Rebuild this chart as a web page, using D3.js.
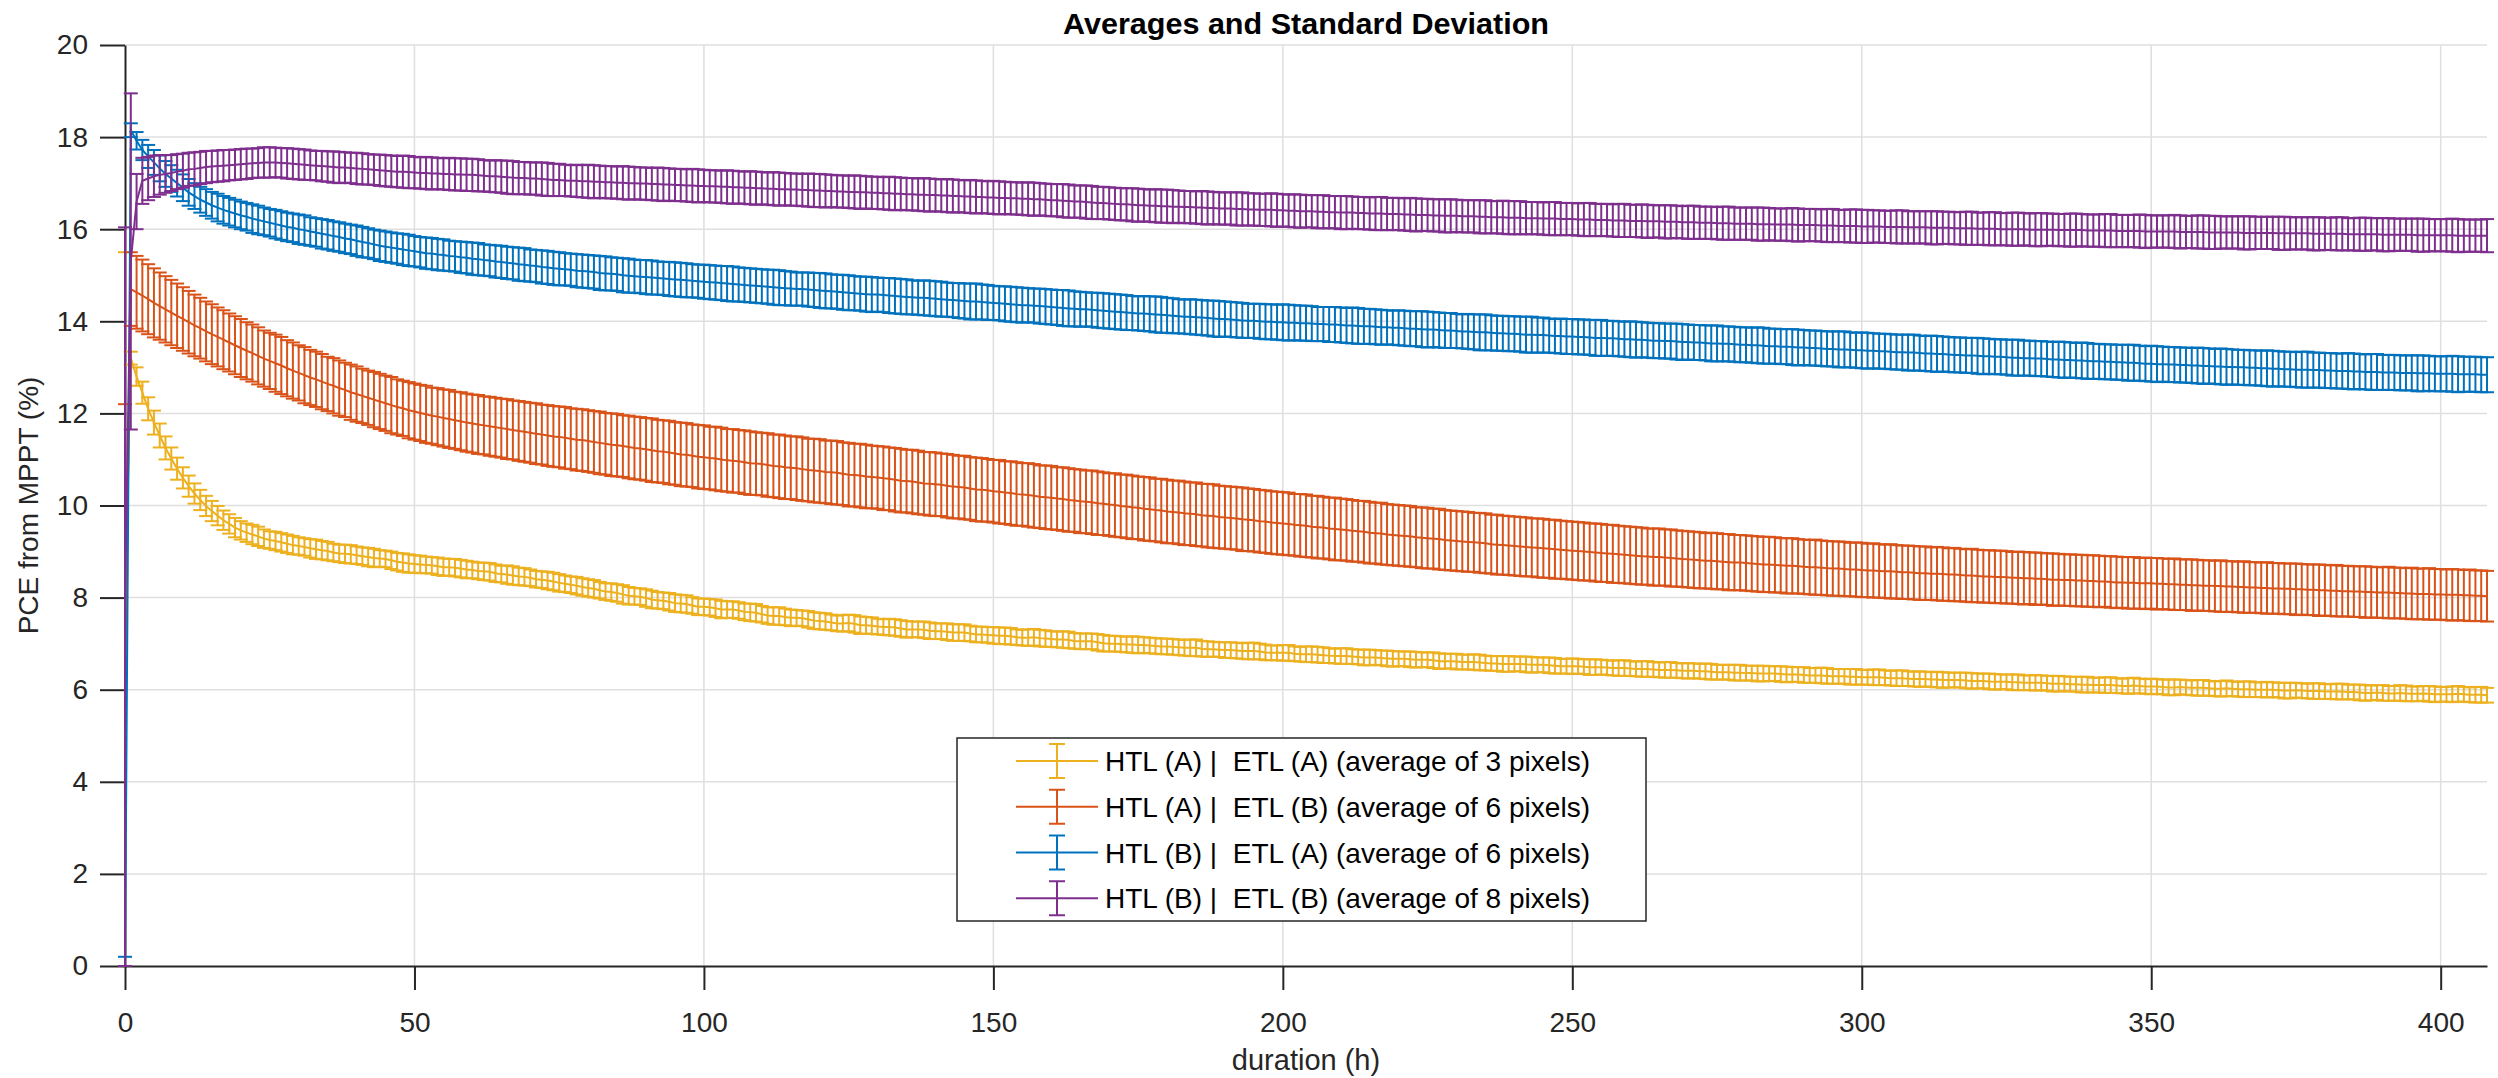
<!DOCTYPE html>
<html>
<head>
<meta charset="utf-8">
<script src="https://cdn.jsdelivr.net/npm/d3@7"></script>
<style>
  body { margin: 0; background: #fff; }
  text { font-family: "Liberation Sans", Arial, Helvetica, sans-serif; fill: #262626; }
</style>
</head>
<body>
<script>
//sampling grid: one reading per hour, 0 to 408 h
var hours = d3.range(0, 409);

//HTL (A) | ETL (A) - mean and standard deviation, rows of 10 h
var yellowMean = [
  7.75, 13.20, 12.80, 12.45, 12.10, 11.80, 11.52, 11.25, 11.02, 10.80,
  10.60, 10.42, 10.26, 10.12, 9.99, 9.88, 9.78, 9.68, 9.60, 9.52,
  9.46, 9.41, 9.37, 9.33, 9.28, 9.25, 9.23, 9.20, 9.17, 9.14,
  9.12, 9.10, 9.07, 9.05, 9.03, 9.01, 8.98, 8.96, 8.95, 8.94,
  8.92, 8.90, 8.88, 8.86, 8.85, 8.84, 8.81, 8.78, 8.76, 8.74,
  8.73, 8.72, 8.71, 8.70, 8.68, 8.66, 8.66, 8.65, 8.63, 8.61,
  8.60, 8.58, 8.57, 8.56, 8.53, 8.51, 8.50, 8.48, 8.46, 8.45,
  8.43, 8.40, 8.39, 8.37, 8.35, 8.32, 8.30, 8.28, 8.26, 8.23,
  8.21, 8.19, 8.16, 8.13, 8.12, 8.10, 8.07, 8.04, 8.03, 8.02,
  7.99, 7.96, 7.94, 7.93, 7.91, 7.88, 7.87, 7.86, 7.83, 7.80,
  7.80, 7.79, 7.77, 7.74, 7.74, 7.74, 7.72, 7.69, 7.68, 7.67,
  7.64, 7.61, 7.60, 7.60, 7.58, 7.56, 7.56, 7.55, 7.53, 7.50,
  7.49, 7.48, 7.46, 7.44, 7.44, 7.45, 7.43, 7.40, 7.40, 7.39,
  7.37, 7.36, 7.36, 7.35, 7.33, 7.31, 7.31, 7.31, 7.30, 7.28,
  7.27, 7.27, 7.26, 7.24, 7.24, 7.24, 7.22, 7.20, 7.20, 7.19,
  7.18, 7.17, 7.17, 7.16, 7.14, 7.13, 7.13, 7.14, 7.12, 7.11,
  7.10, 7.09, 7.09, 7.08, 7.06, 7.05, 7.05, 7.05, 7.03, 7.01,
  7.00, 7.00, 6.99, 6.98, 6.98, 6.97, 6.97, 6.96, 6.95, 6.94,
  6.94, 6.93, 6.92, 6.91, 6.91, 6.91, 6.89, 6.88, 6.88, 6.87,
  6.86, 6.86, 6.85, 6.84, 6.84, 6.84, 6.83, 6.81, 6.80, 6.80,
  6.80, 6.80, 6.78, 6.77, 6.77, 6.77, 6.76, 6.75, 6.74, 6.73,
  6.73, 6.73, 6.72, 6.71, 6.70, 6.70, 6.70, 6.69, 6.68, 6.67,
  6.67, 6.67, 6.66, 6.65, 6.65, 6.65, 6.64, 6.62, 6.62, 6.62,
  6.61, 6.60, 6.60, 6.60, 6.59, 6.58, 6.57, 6.57, 6.56, 6.56,
  6.56, 6.56, 6.55, 6.54, 6.54, 6.54, 6.53, 6.52, 6.51, 6.51,
  6.51, 6.51, 6.50, 6.49, 6.49, 6.49, 6.48, 6.47, 6.47, 6.47,
  6.46, 6.45, 6.45, 6.45, 6.44, 6.43, 6.43, 6.43, 6.42, 6.41,
  6.41, 6.41, 6.40, 6.40, 6.39, 6.38, 6.38, 6.38, 6.37, 6.37,
  6.36, 6.36, 6.35, 6.35, 6.35, 6.35, 6.34, 6.33, 6.33, 6.33,
  6.32, 6.31, 6.31, 6.31, 6.30, 6.29, 6.29, 6.29, 6.28, 6.28,
  6.27, 6.27, 6.27, 6.27, 6.26, 6.25, 6.25, 6.25, 6.24, 6.23,
  6.23, 6.23, 6.22, 6.22, 6.21, 6.21, 6.21, 6.21, 6.20, 6.19,
  6.19, 6.19, 6.18, 6.17, 6.17, 6.17, 6.16, 6.16, 6.15, 6.15,
  6.15, 6.15, 6.14, 6.13, 6.13, 6.13, 6.12, 6.12, 6.11, 6.11,
  6.10, 6.10, 6.10, 6.10, 6.09, 6.08, 6.08, 6.09, 6.08, 6.07,
  6.07, 6.07, 6.06, 6.05, 6.05, 6.06, 6.05, 6.04, 6.04, 6.04,
  6.03, 6.02, 6.02, 6.03, 6.02, 6.01, 6.01, 6.01, 6.00, 6.00,
  6.00, 6.00, 5.99, 5.98, 5.98, 5.99, 5.98, 5.97, 5.97, 5.97,
  5.96, 5.96, 5.96, 5.96, 5.95, 5.95, 5.94, 5.93, 5.93, 5.94,
  5.93, 5.92, 5.92, 5.93, 5.92, 5.91, 5.91, 5.92, 5.91, 5.90,
  5.90, 5.90, 5.90, 5.91, 5.90, 5.89, 5.89, 5.89, 5.88];
var yellowStd = [
  7.75, 0.14, 0.20, 0.24, 0.25, 0.26, 0.26, 0.25, 0.24, 0.24,
  0.23, 0.23, 0.22, 0.22, 0.22, 0.22, 0.21, 0.21, 0.21, 0.21,
  0.20, 0.20, 0.21, 0.21, 0.20, 0.19, 0.20, 0.20, 0.20, 0.20,
  0.19, 0.19, 0.20, 0.21, 0.20, 0.20, 0.19, 0.19, 0.20, 0.20,
  0.19, 0.19, 0.20, 0.20, 0.18, 0.18, 0.19, 0.19, 0.20, 0.20,
  0.19, 0.19, 0.18, 0.18, 0.19, 0.19, 0.18, 0.19, 0.19, 0.19,
  0.18, 0.18, 0.19, 0.19, 0.19, 0.18, 0.20, 0.20, 0.19, 0.19,
  0.18, 0.18, 0.18, 0.19, 0.19, 0.19, 0.18, 0.18, 0.19, 0.19,
  0.19, 0.19, 0.18, 0.18, 0.19, 0.19, 0.20, 0.19, 0.18, 0.18,
  0.19, 0.19, 0.18, 0.18, 0.19, 0.19, 0.19, 0.19, 0.18, 0.18,
  0.18, 0.18, 0.19, 0.19, 0.18, 0.18, 0.18, 0.18, 0.19, 0.19,
  0.18, 0.18, 0.19, 0.19, 0.18, 0.18, 0.17, 0.17, 0.18, 0.18,
  0.18, 0.18, 0.17, 0.17, 0.18, 0.18, 0.19, 0.19, 0.18, 0.18,
  0.17, 0.17, 0.18, 0.18, 0.18, 0.18, 0.17, 0.17, 0.18, 0.18,
  0.17, 0.17, 0.18, 0.18, 0.18, 0.18, 0.17, 0.17, 0.17, 0.17,
  0.18, 0.18, 0.18, 0.18, 0.17, 0.17, 0.18, 0.18, 0.18, 0.18,
  0.17, 0.17, 0.18, 0.18, 0.17, 0.17, 0.17, 0.17, 0.18, 0.18,
  0.17, 0.17, 0.17, 0.17, 0.18, 0.18, 0.17, 0.17, 0.17, 0.17,
  0.17, 0.17, 0.17, 0.17, 0.18, 0.18, 0.17, 0.17, 0.16, 0.16,
  0.17, 0.17, 0.17, 0.17, 0.18, 0.18, 0.17, 0.17, 0.16, 0.16,
  0.17, 0.17, 0.16, 0.16, 0.17, 0.17, 0.17, 0.17, 0.16, 0.16,
  0.17, 0.17, 0.16, 0.16, 0.17, 0.17, 0.16, 0.16, 0.17, 0.17,
  0.16, 0.16, 0.17, 0.17, 0.16, 0.16, 0.17, 0.17, 0.16, 0.16,
  0.17, 0.16, 0.16, 0.17, 0.17, 0.16, 0.16, 0.16, 0.17, 0.17,
  0.16, 0.16, 0.17, 0.17, 0.16, 0.16, 0.17, 0.17, 0.16, 0.16,
  0.17, 0.16, 0.16, 0.17, 0.17, 0.16, 0.16, 0.16, 0.17, 0.17,
  0.16, 0.16, 0.17, 0.17, 0.16, 0.16, 0.17, 0.17, 0.16, 0.16,
  0.17, 0.16, 0.16, 0.17, 0.17, 0.16, 0.16, 0.16, 0.17, 0.17,
  0.16, 0.16, 0.17, 0.17, 0.16, 0.16, 0.17, 0.17, 0.16, 0.16,
  0.17, 0.16, 0.16, 0.17, 0.17, 0.16, 0.16, 0.16, 0.17, 0.17,
  0.16, 0.16, 0.17, 0.17, 0.16, 0.16, 0.17, 0.17, 0.16, 0.16,
  0.17, 0.16, 0.16, 0.17, 0.17, 0.16, 0.16, 0.16, 0.17, 0.17,
  0.16, 0.16, 0.17, 0.17, 0.16, 0.16, 0.17, 0.17, 0.16, 0.16,
  0.17, 0.16, 0.16, 0.17, 0.17, 0.16, 0.16, 0.16, 0.17, 0.17,
  0.16, 0.16, 0.17, 0.17, 0.16, 0.16, 0.17, 0.17, 0.16, 0.16,
  0.17, 0.16, 0.16, 0.17, 0.17, 0.16, 0.16, 0.16, 0.17, 0.17,
  0.16, 0.16, 0.17, 0.17, 0.16, 0.16, 0.17, 0.17, 0.16, 0.16,
  0.17, 0.16, 0.16, 0.17, 0.17, 0.16, 0.16, 0.16, 0.17, 0.17,
  0.16, 0.16, 0.17, 0.17, 0.16, 0.16, 0.17, 0.17, 0.16, 0.16,
  0.17, 0.16, 0.16, 0.17, 0.17, 0.16, 0.16, 0.16, 0.17, 0.17,
  0.16, 0.16, 0.17, 0.17, 0.16, 0.16, 0.17, 0.17, 0.16];

//HTL (A) | ETL (B)
var orangeMean = [
  6.10, 14.70, 14.63, 14.56, 14.48, 14.40, 14.33, 14.26, 14.19, 14.12,
  14.05, 13.98, 13.91, 13.85, 13.78, 13.72, 13.66, 13.60, 13.54, 13.48,
  13.42, 13.36, 13.31, 13.25, 13.19, 13.14, 13.09, 13.04, 12.98, 12.93,
  12.88, 12.83, 12.78, 12.74, 12.69, 12.64, 12.60, 12.55, 12.51, 12.46,
  12.42, 12.38, 12.34, 12.30, 12.26, 12.22, 12.18, 12.14, 12.11, 12.07,
  12.04, 12.01, 11.98, 11.95, 11.93, 11.90, 11.88, 11.85, 11.83, 11.80,
  11.78, 11.76, 11.74, 11.72, 11.70, 11.68, 11.66, 11.64, 11.62, 11.60,
  11.58, 11.56, 11.54, 11.52, 11.50, 11.49, 11.47, 11.45, 11.43, 11.42,
  11.40, 11.38, 11.36, 11.34, 11.32, 11.31, 11.29, 11.27, 11.25, 11.24,
  11.22, 11.20, 11.18, 11.17, 11.15, 11.13, 11.11, 11.10, 11.08, 11.06,
  11.05, 11.03, 11.02, 11.00, 10.98, 10.97, 10.96, 10.94, 10.92, 10.91,
  10.90, 10.88, 10.86, 10.85, 10.83, 10.82, 10.81, 10.79, 10.77, 10.76,
  10.75, 10.73, 10.72, 10.71, 10.69, 10.67, 10.66, 10.65, 10.63, 10.62,
  10.61, 10.59, 10.58, 10.56, 10.54, 10.53, 10.52, 10.50, 10.48, 10.47,
  10.46, 10.45, 10.43, 10.41, 10.40, 10.39, 10.37, 10.35, 10.34, 10.33,
  10.31, 10.30, 10.28, 10.27, 10.25, 10.24, 10.23, 10.21, 10.19, 10.18,
  10.17, 10.15, 10.14, 10.12, 10.11, 10.09, 10.08, 10.07, 10.05, 10.04,
  10.02, 10.01, 9.99, 9.98, 9.96, 9.95, 9.93, 9.92, 9.90, 9.89,
  9.87, 9.86, 9.85, 9.83, 9.82, 9.81, 9.79, 9.78, 9.77, 9.75,
  9.74, 9.73, 9.72, 9.70, 9.69, 9.68, 9.66, 9.65, 9.63, 9.62,
  9.61, 9.60, 9.58, 9.57, 9.56, 9.54, 9.53, 9.52, 9.50, 9.49,
  9.48, 9.47, 9.45, 9.44, 9.43, 9.41, 9.40, 9.39, 9.37, 9.36,
  9.35, 9.34, 9.33, 9.31, 9.30, 9.29, 9.28, 9.27, 9.25, 9.24,
  9.23, 9.22, 9.21, 9.20, 9.19, 9.18, 9.16, 9.15, 9.14, 9.13,
  9.12, 9.11, 9.10, 9.09, 9.08, 9.07, 9.06, 9.05, 9.04, 9.03,
  9.02, 9.01, 9.00, 8.99, 8.98, 8.97, 8.96, 8.95, 8.94, 8.93,
  8.92, 8.91, 8.90, 8.89, 8.88, 8.88, 8.87, 8.86, 8.85, 8.84,
  8.83, 8.82, 8.81, 8.80, 8.80, 8.79, 8.78, 8.77, 8.76, 8.76,
  8.75, 8.74, 8.73, 8.72, 8.72, 8.71, 8.70, 8.69, 8.69, 8.68,
  8.67, 8.66, 8.66, 8.65, 8.64, 8.63, 8.63, 8.62, 8.61, 8.61,
  8.60, 8.59, 8.59, 8.58, 8.57, 8.57, 8.56, 8.55, 8.55, 8.54,
  8.53, 8.53, 8.52, 8.52, 8.51, 8.50, 8.50, 8.49, 8.48, 8.48,
  8.47, 8.46, 8.46, 8.45, 8.45, 8.44, 8.43, 8.43, 8.42, 8.42,
  8.41, 8.41, 8.40, 8.39, 8.39, 8.38, 8.38, 8.37, 8.37, 8.36,
  8.36, 8.35, 8.35, 8.34, 8.33, 8.33, 8.32, 8.32, 8.31, 8.31,
  8.31, 8.30, 8.30, 8.29, 8.29, 8.28, 8.28, 8.27, 8.27, 8.26,
  8.26, 8.25, 8.25, 8.24, 8.24, 8.23, 8.23, 8.22, 8.22, 8.21,
  8.21, 8.20, 8.20, 8.19, 8.19, 8.18, 8.18, 8.17, 8.17, 8.16,
  8.16, 8.15, 8.15, 8.14, 8.14, 8.13, 8.13, 8.12, 8.12, 8.11,
  8.11, 8.11, 8.10, 8.10, 8.09, 8.09, 8.08, 8.08, 8.08, 8.07,
  8.07, 8.06, 8.06, 8.06, 8.05, 8.05, 8.04, 8.04, 8.03];
var orangeStd = [
  6.10, 0.80, 0.79, 0.78, 0.76, 0.75, 0.73, 0.72, 0.71, 0.70,
  0.69, 0.68, 0.67, 0.66, 0.65, 0.65, 0.64, 0.64, 0.63, 0.63,
  0.63, 0.62, 0.62, 0.62, 0.61, 0.61, 0.62, 0.62, 0.61, 0.61,
  0.60, 0.61, 0.60, 0.60, 0.60, 0.59, 0.60, 0.60, 0.59, 0.60,
  0.60, 0.59, 0.59, 0.60, 0.60, 0.60, 0.61, 0.60, 0.60, 0.61,
  0.61, 0.61, 0.62, 0.61, 0.62, 0.62, 0.63, 0.62, 0.63, 0.63,
  0.63, 0.64, 0.63, 0.64, 0.64, 0.64, 0.65, 0.64, 0.65, 0.65,
  0.65, 0.66, 0.65, 0.66, 0.66, 0.66, 0.67, 0.66, 0.67, 0.67,
  0.67, 0.67, 0.68, 0.67, 0.68, 0.68, 0.67, 0.68, 0.68, 0.68,
  0.68, 0.69, 0.68, 0.68, 0.69, 0.68, 0.69, 0.69, 0.68, 0.69,
  0.69, 0.68, 0.69, 0.69, 0.68, 0.69, 0.68, 0.69, 0.69, 0.68,
  0.68, 0.69, 0.68, 0.69, 0.69, 0.68, 0.69, 0.69, 0.68, 0.69,
  0.69, 0.68, 0.69, 0.69, 0.68, 0.69, 0.68, 0.69, 0.69, 0.68,
  0.68, 0.69, 0.68, 0.69, 0.69, 0.68, 0.69, 0.69, 0.68, 0.69,
  0.69, 0.68, 0.69, 0.69, 0.68, 0.69, 0.68, 0.69, 0.69, 0.68,
  0.68, 0.69, 0.68, 0.69, 0.69, 0.68, 0.69, 0.69, 0.68, 0.69,
  0.69, 0.68, 0.69, 0.69, 0.68, 0.69, 0.68, 0.69, 0.69, 0.68,
  0.68, 0.69, 0.68, 0.69, 0.69, 0.68, 0.69, 0.69, 0.68, 0.69,
  0.69, 0.68, 0.69, 0.69, 0.68, 0.69, 0.68, 0.69, 0.69, 0.68,
  0.68, 0.68, 0.68, 0.69, 0.68, 0.68, 0.68, 0.68, 0.68, 0.68,
  0.68, 0.68, 0.67, 0.68, 0.68, 0.67, 0.68, 0.67, 0.67, 0.68,
  0.67, 0.67, 0.67, 0.66, 0.67, 0.67, 0.66, 0.67, 0.66, 0.66,
  0.66, 0.66, 0.66, 0.65, 0.66, 0.66, 0.65, 0.66, 0.65, 0.65,
  0.65, 0.65, 0.65, 0.64, 0.65, 0.65, 0.64, 0.65, 0.64, 0.64,
  0.64, 0.64, 0.64, 0.63, 0.64, 0.64, 0.63, 0.64, 0.63, 0.63,
  0.63, 0.63, 0.63, 0.62, 0.63, 0.63, 0.62, 0.63, 0.62, 0.62,
  0.62, 0.62, 0.62, 0.61, 0.62, 0.62, 0.61, 0.62, 0.61, 0.61,
  0.61, 0.61, 0.61, 0.60, 0.61, 0.61, 0.60, 0.61, 0.60, 0.60,
  0.60, 0.60, 0.60, 0.60, 0.60, 0.60, 0.59, 0.60, 0.60, 0.59,
  0.59, 0.59, 0.60, 0.59, 0.59, 0.59, 0.59, 0.59, 0.58, 0.59,
  0.59, 0.58, 0.59, 0.58, 0.58, 0.59, 0.58, 0.58, 0.58, 0.58,
  0.58, 0.58, 0.57, 0.58, 0.58, 0.57, 0.58, 0.57, 0.57, 0.58,
  0.57, 0.57, 0.57, 0.57, 0.57, 0.57, 0.56, 0.57, 0.57, 0.56,
  0.57, 0.56, 0.56, 0.57, 0.56, 0.56, 0.56, 0.56, 0.56, 0.56,
  0.56, 0.56, 0.55, 0.56, 0.56, 0.55, 0.56, 0.56, 0.55, 0.56,
  0.55, 0.56, 0.55, 0.55, 0.56, 0.55, 0.55, 0.56, 0.55, 0.55,
  0.55, 0.55, 0.56, 0.55, 0.55, 0.55, 0.56, 0.55, 0.55, 0.55,
  0.56, 0.55, 0.55, 0.55, 0.55, 0.56, 0.55, 0.55, 0.55, 0.56,
  0.55, 0.55, 0.56, 0.55, 0.55, 0.55, 0.55, 0.56, 0.55, 0.55,
  0.55, 0.56, 0.55, 0.55, 0.55, 0.56, 0.55, 0.55, 0.56, 0.55,
  0.55, 0.55, 0.56, 0.55, 0.55, 0.56, 0.55, 0.55, 0.55];

//HTL (B) | ETL (A)
var blueMean = [
  0.10, 18.15, 17.92, 17.72, 17.58, 17.45, 17.32, 17.20, 17.10, 17.00,
  16.90, 16.80, 16.72, 16.64, 16.58, 16.52, 16.47, 16.42, 16.38, 16.34,
  16.30, 16.27, 16.23, 16.20, 16.17, 16.14, 16.11, 16.08, 16.05, 16.03,
  16.00, 15.98, 15.95, 15.93, 15.90, 15.88, 15.85, 15.83, 15.80, 15.78,
  15.75, 15.72, 15.70, 15.67, 15.64, 15.62, 15.60, 15.58, 15.56, 15.54,
  15.52, 15.50, 15.48, 15.47, 15.45, 15.44, 15.42, 15.41, 15.39, 15.38,
  15.36, 15.35, 15.33, 15.32, 15.30, 15.29, 15.27, 15.26, 15.24, 15.23,
  15.21, 15.20, 15.18, 15.17, 15.15, 15.14, 15.13, 15.12, 15.10, 15.09,
  15.08, 15.07, 15.05, 15.04, 15.03, 15.02, 15.00, 14.99, 14.98, 14.97,
  14.96, 14.95, 14.94, 14.93, 14.92, 14.91, 14.90, 14.89, 14.88, 14.87,
  14.86, 14.85, 14.84, 14.83, 14.82, 14.81, 14.80, 14.79, 14.78, 14.77,
  14.76, 14.75, 14.74, 14.73, 14.72, 14.71, 14.70, 14.70, 14.69, 14.68,
  14.67, 14.66, 14.65, 14.64, 14.63, 14.62, 14.61, 14.60, 14.59, 14.58,
  14.58, 14.57, 14.56, 14.55, 14.54, 14.53, 14.52, 14.51, 14.51, 14.50,
  14.49, 14.48, 14.47, 14.46, 14.45, 14.44, 14.43, 14.43, 14.42, 14.41,
  14.40, 14.39, 14.38, 14.37, 14.36, 14.35, 14.35, 14.34, 14.33, 14.32,
  14.31, 14.30, 14.29, 14.28, 14.27, 14.26, 14.26, 14.25, 14.24, 14.23,
  14.22, 14.21, 14.20, 14.19, 14.18, 14.17, 14.17, 14.16, 14.15, 14.14,
  14.13, 14.12, 14.11, 14.10, 14.10, 14.09, 14.08, 14.07, 14.06, 14.05,
  14.05, 14.04, 14.03, 14.02, 14.01, 14.01, 14.00, 13.99, 13.99, 13.98,
  13.98, 13.97, 13.97, 13.96, 13.96, 13.95, 13.94, 13.94, 13.93, 13.93,
  13.92, 13.91, 13.91, 13.90, 13.89, 13.89, 13.88, 13.87, 13.87, 13.86,
  13.86, 13.85, 13.84, 13.84, 13.83, 13.82, 13.82, 13.81, 13.80, 13.80,
  13.79, 13.78, 13.78, 13.77, 13.76, 13.76, 13.75, 13.74, 13.74, 13.73,
  13.73, 13.72, 13.71, 13.71, 13.70, 13.70, 13.69, 13.68, 13.68, 13.67,
  13.67, 13.66, 13.66, 13.65, 13.64, 13.64, 13.63, 13.63, 13.62, 13.61,
  13.61, 13.60, 13.60, 13.59, 13.58, 13.58, 13.57, 13.57, 13.56, 13.55,
  13.55, 13.54, 13.54, 13.53, 13.52, 13.52, 13.51, 13.51, 13.50, 13.49,
  13.49, 13.48, 13.48, 13.47, 13.46, 13.46, 13.45, 13.45, 13.44, 13.43,
  13.43, 13.42, 13.42, 13.41, 13.40, 13.40, 13.39, 13.39, 13.38, 13.37,
  13.37, 13.36, 13.36, 13.35, 13.35, 13.34, 13.33, 13.33, 13.32, 13.32,
  13.31, 13.30, 13.30, 13.29, 13.29, 13.28, 13.27, 13.27, 13.26, 13.26,
  13.25, 13.24, 13.24, 13.23, 13.23, 13.22, 13.21, 13.21, 13.20, 13.20,
  13.19, 13.19, 13.18, 13.17, 13.17, 13.16, 13.16, 13.15, 13.15, 13.14,
  13.13, 13.13, 13.12, 13.12, 13.11, 13.11, 13.10, 13.10, 13.09, 13.08,
  13.08, 13.07, 13.07, 13.06, 13.06, 13.05, 13.05, 13.04, 13.04, 13.03,
  13.03, 13.02, 13.02, 13.01, 13.01, 13.00, 13.00, 12.99, 12.99, 12.98,
  12.98, 12.97, 12.97, 12.96, 12.96, 12.95, 12.95, 12.95, 12.94, 12.94,
  12.93, 12.93, 12.92, 12.92, 12.92, 12.91, 12.91, 12.90, 12.90, 12.90,
  12.89, 12.89, 12.89, 12.88, 12.88, 12.88, 12.87, 12.87, 12.87, 12.86,
  12.86, 12.86, 12.86, 12.85, 12.85, 12.85, 12.85, 12.84, 12.84];
var blueStd = [
  0.10, 0.15, 0.19, 0.22, 0.25, 0.27, 0.28, 0.28, 0.29, 0.29,
  0.29, 0.29, 0.28, 0.28, 0.29, 0.29, 0.30, 0.30, 0.30, 0.30,
  0.30, 0.30, 0.31, 0.31, 0.30, 0.30, 0.31, 0.31, 0.31, 0.31,
  0.32, 0.32, 0.31, 0.31, 0.32, 0.32, 0.32, 0.32, 0.32, 0.32,
  0.33, 0.33, 0.32, 0.32, 0.33, 0.33, 0.33, 0.33, 0.34, 0.34,
  0.33, 0.33, 0.34, 0.34, 0.34, 0.34, 0.33, 0.33, 0.34, 0.34,
  0.35, 0.35, 0.34, 0.34, 0.35, 0.35, 0.35, 0.35, 0.36, 0.36,
  0.35, 0.35, 0.36, 0.36, 0.36, 0.36, 0.35, 0.35, 0.36, 0.36,
  0.36, 0.36, 0.37, 0.37, 0.36, 0.36, 0.37, 0.37, 0.36, 0.36,
  0.37, 0.37, 0.36, 0.36, 0.37, 0.37, 0.37, 0.37, 0.36, 0.36,
  0.37, 0.37, 0.37, 0.37, 0.38, 0.38, 0.37, 0.37, 0.37, 0.37,
  0.37, 0.37, 0.38, 0.38, 0.37, 0.37, 0.36, 0.36, 0.37, 0.37,
  0.38, 0.38, 0.37, 0.37, 0.38, 0.38, 0.37, 0.37, 0.38, 0.38,
  0.37, 0.37, 0.38, 0.38, 0.38, 0.38, 0.37, 0.37, 0.38, 0.38,
  0.38, 0.38, 0.37, 0.37, 0.38, 0.38, 0.39, 0.39, 0.38, 0.38,
  0.37, 0.37, 0.38, 0.38, 0.38, 0.38, 0.37, 0.37, 0.38, 0.38,
  0.38, 0.38, 0.39, 0.39, 0.38, 0.38, 0.37, 0.37, 0.38, 0.38,
  0.38, 0.38, 0.38, 0.38, 0.37, 0.37, 0.38, 0.38, 0.39, 0.39,
  0.38, 0.38, 0.37, 0.37, 0.38, 0.38, 0.38, 0.38, 0.39, 0.39,
  0.38, 0.38, 0.38, 0.38, 0.37, 0.37, 0.38, 0.38, 0.38, 0.38,
  0.39, 0.39, 0.38, 0.38, 0.38, 0.38, 0.37, 0.37, 0.38, 0.38,
  0.38, 0.38, 0.39, 0.39, 0.38, 0.38, 0.38, 0.38, 0.37, 0.37,
  0.38, 0.38, 0.38, 0.38, 0.39, 0.39, 0.38, 0.38, 0.38, 0.38,
  0.37, 0.37, 0.38, 0.38, 0.39, 0.39, 0.38, 0.38, 0.38, 0.38,
  0.38, 0.38, 0.39, 0.39, 0.38, 0.38, 0.37, 0.37, 0.38, 0.38,
  0.38, 0.38, 0.38, 0.38, 0.39, 0.39, 0.38, 0.38, 0.38, 0.38,
  0.39, 0.39, 0.38, 0.38, 0.38, 0.38, 0.38, 0.38, 0.39, 0.39,
  0.38, 0.38, 0.38, 0.38, 0.39, 0.39, 0.38, 0.38, 0.38, 0.38,
  0.38, 0.38, 0.39, 0.39, 0.38, 0.38, 0.38, 0.38, 0.39, 0.39,
  0.38, 0.38, 0.38, 0.38, 0.38, 0.38, 0.39, 0.39, 0.38, 0.38,
  0.39, 0.39, 0.38, 0.38, 0.38, 0.38, 0.38, 0.38, 0.39, 0.39,
  0.38, 0.38, 0.39, 0.39, 0.38, 0.38, 0.38, 0.38, 0.38, 0.38,
  0.39, 0.39, 0.38, 0.38, 0.38, 0.38, 0.39, 0.39, 0.38, 0.38,
  0.38, 0.38, 0.38, 0.38, 0.39, 0.39, 0.38, 0.38, 0.39, 0.39,
  0.38, 0.38, 0.38, 0.38, 0.38, 0.38, 0.39, 0.39, 0.38, 0.38,
  0.39, 0.39, 0.38, 0.38, 0.38, 0.38, 0.38, 0.38, 0.39, 0.39,
  0.38, 0.38, 0.39, 0.39, 0.38, 0.38, 0.38, 0.38, 0.38, 0.38,
  0.39, 0.39, 0.38, 0.38, 0.38, 0.38, 0.39, 0.39, 0.38, 0.38,
  0.38, 0.38, 0.38, 0.38, 0.39, 0.39, 0.38, 0.38, 0.39, 0.39,
  0.38, 0.38, 0.38, 0.38, 0.38, 0.38, 0.39, 0.39, 0.38, 0.38,
  0.38, 0.38, 0.39, 0.39, 0.38, 0.38, 0.38, 0.38, 0.38];

//HTL (B) | ETL (B)
var purpleMean = [
  8.02, 15.30, 16.60, 17.05, 17.10, 17.15, 17.18, 17.20, 17.22, 17.25,
  17.27, 17.30, 17.31, 17.33, 17.35, 17.36, 17.37, 17.38, 17.39, 17.40,
  17.41, 17.42, 17.43, 17.44, 17.45, 17.45, 17.45, 17.44, 17.43, 17.42,
  17.41, 17.40, 17.39, 17.38, 17.37, 17.36, 17.35, 17.34, 17.34, 17.33,
  17.32, 17.31, 17.30, 17.29, 17.28, 17.27, 17.26, 17.25, 17.25, 17.24,
  17.23, 17.22, 17.22, 17.21, 17.21, 17.20, 17.20, 17.19, 17.19, 17.18,
  17.18, 17.17, 17.16, 17.15, 17.15, 17.14, 17.13, 17.12, 17.11, 17.11,
  17.10, 17.10, 17.09, 17.08, 17.07, 17.07, 17.06, 17.05, 17.05, 17.04,
  17.04, 17.03, 17.03, 17.02, 17.02, 17.01, 17.01, 17.00, 17.00, 16.99,
  16.99, 16.98, 16.98, 16.97, 16.97, 16.96, 16.96, 16.95, 16.95, 16.94,
  16.94, 16.93, 16.93, 16.92, 16.92, 16.91, 16.91, 16.90, 16.90, 16.89,
  16.89, 16.88, 16.88, 16.87, 16.87, 16.86, 16.86, 16.85, 16.85, 16.84,
  16.84, 16.83, 16.83, 16.82, 16.82, 16.81, 16.81, 16.80, 16.80, 16.79,
  16.79, 16.78, 16.78, 16.77, 16.77, 16.76, 16.76, 16.75, 16.75, 16.74,
  16.74, 16.73, 16.73, 16.72, 16.72, 16.71, 16.71, 16.70, 16.70, 16.69,
  16.69, 16.68, 16.68, 16.67, 16.67, 16.66, 16.66, 16.65, 16.65, 16.64,
  16.63, 16.63, 16.62, 16.61, 16.60, 16.60, 16.59, 16.58, 16.57, 16.57,
  16.56, 16.55, 16.54, 16.54, 16.53, 16.52, 16.52, 16.51, 16.51, 16.50,
  16.50, 16.49, 16.49, 16.48, 16.48, 16.47, 16.47, 16.46, 16.46, 16.45,
  16.45, 16.45, 16.44, 16.44, 16.43, 16.43, 16.42, 16.42, 16.42, 16.41,
  16.41, 16.40, 16.40, 16.39, 16.39, 16.39, 16.38, 16.38, 16.37, 16.37,
  16.36, 16.36, 16.36, 16.35, 16.35, 16.34, 16.34, 16.34, 16.33, 16.33,
  16.33, 16.32, 16.32, 16.31, 16.31, 16.31, 16.30, 16.30, 16.29, 16.29,
  16.29, 16.28, 16.28, 16.28, 16.27, 16.27, 16.26, 16.26, 16.26, 16.25,
  16.25, 16.25, 16.24, 16.24, 16.24, 16.23, 16.23, 16.23, 16.22, 16.22,
  16.22, 16.21, 16.21, 16.21, 16.20, 16.20, 16.20, 16.19, 16.19, 16.19,
  16.18, 16.18, 16.18, 16.17, 16.17, 16.17, 16.16, 16.16, 16.16, 16.15,
  16.15, 16.15, 16.14, 16.14, 16.14, 16.13, 16.13, 16.13, 16.12, 16.12,
  16.12, 16.12, 16.11, 16.11, 16.11, 16.10, 16.10, 16.10, 16.10, 16.09,
  16.09, 16.09, 16.09, 16.08, 16.08, 16.08, 16.07, 16.07, 16.07, 16.07,
  16.06, 16.06, 16.06, 16.06, 16.05, 16.05, 16.05, 16.05, 16.04, 16.04,
  16.04, 16.04, 16.03, 16.03, 16.03, 16.03, 16.02, 16.02, 16.02, 16.02,
  16.01, 16.01, 16.01, 16.01, 16.00, 16.00, 16.00, 16.00, 16.00, 15.99,
  15.99, 15.99, 15.99, 15.99, 15.98, 15.98, 15.98, 15.98, 15.98, 15.97,
  15.97, 15.97, 15.97, 15.97, 15.96, 15.96, 15.96, 15.96, 15.96, 15.95,
  15.95, 15.95, 15.95, 15.95, 15.95, 15.94, 15.94, 15.94, 15.94, 15.94,
  15.93, 15.93, 15.93, 15.93, 15.93, 15.93, 15.92, 15.92, 15.92, 15.92,
  15.92, 15.92, 15.91, 15.91, 15.91, 15.91, 15.91, 15.91, 15.90, 15.90,
  15.90, 15.90, 15.90, 15.90, 15.89, 15.89, 15.89, 15.89, 15.89, 15.89,
  15.88, 15.88, 15.88, 15.88, 15.88, 15.88, 15.87, 15.87, 15.87, 15.87,
  15.87, 15.87, 15.87, 15.86, 15.86, 15.86, 15.86, 15.86, 15.86];
var purpleStd = [
  8.02, 3.65, 0.60, 0.50, 0.47, 0.45, 0.43, 0.41, 0.39, 0.38,
  0.37, 0.36, 0.36, 0.35, 0.35, 0.34, 0.34, 0.34, 0.33, 0.33,
  0.33, 0.33, 0.32, 0.32, 0.33, 0.33, 0.32, 0.32, 0.33, 0.33,
  0.33, 0.33, 0.32, 0.32, 0.33, 0.33, 0.34, 0.34, 0.33, 0.33,
  0.34, 0.34, 0.33, 0.33, 0.34, 0.34, 0.34, 0.34, 0.35, 0.35,
  0.34, 0.34, 0.35, 0.35, 0.34, 0.34, 0.35, 0.35, 0.35, 0.35,
  0.35, 0.35, 0.34, 0.34, 0.35, 0.35, 0.36, 0.36, 0.35, 0.35,
  0.35, 0.35, 0.36, 0.36, 0.35, 0.35, 0.34, 0.34, 0.35, 0.35,
  0.36, 0.36, 0.35, 0.35, 0.35, 0.35, 0.36, 0.36, 0.35, 0.35,
  0.35, 0.35, 0.36, 0.36, 0.35, 0.35, 0.35, 0.35, 0.36, 0.36,
  0.35, 0.35, 0.35, 0.35, 0.36, 0.36, 0.35, 0.35, 0.36, 0.36,
  0.35, 0.35, 0.36, 0.36, 0.35, 0.35, 0.35, 0.35, 0.36, 0.36,
  0.36, 0.36, 0.35, 0.35, 0.35, 0.35, 0.36, 0.36, 0.35, 0.35,
  0.35, 0.35, 0.36, 0.36, 0.35, 0.35, 0.35, 0.35, 0.36, 0.36,
  0.35, 0.35, 0.36, 0.36, 0.35, 0.35, 0.36, 0.36, 0.35, 0.35,
  0.36, 0.36, 0.35, 0.35, 0.35, 0.35, 0.36, 0.36, 0.35, 0.35,
  0.35, 0.35, 0.36, 0.36, 0.35, 0.35, 0.36, 0.36, 0.35, 0.35,
  0.35, 0.35, 0.35, 0.35, 0.36, 0.36, 0.35, 0.35, 0.36, 0.36,
  0.36, 0.36, 0.35, 0.35, 0.35, 0.35, 0.36, 0.36, 0.35, 0.35,
  0.35, 0.35, 0.36, 0.36, 0.35, 0.35, 0.35, 0.35, 0.36, 0.36,
  0.35, 0.35, 0.36, 0.36, 0.35, 0.35, 0.36, 0.36, 0.35, 0.35,
  0.36, 0.36, 0.35, 0.35, 0.35, 0.35, 0.36, 0.36, 0.35, 0.35,
  0.35, 0.35, 0.36, 0.36, 0.35, 0.35, 0.35, 0.35, 0.36, 0.36,
  0.35, 0.35, 0.35, 0.35, 0.36, 0.36, 0.35, 0.35, 0.36, 0.36,
  0.36, 0.36, 0.35, 0.35, 0.35, 0.35, 0.36, 0.36, 0.35, 0.35,
  0.35, 0.35, 0.36, 0.36, 0.35, 0.35, 0.35, 0.35, 0.36, 0.36,
  0.35, 0.35, 0.36, 0.36, 0.35, 0.35, 0.36, 0.36, 0.35, 0.35,
  0.36, 0.36, 0.35, 0.35, 0.35, 0.35, 0.36, 0.36, 0.35, 0.35,
  0.35, 0.35, 0.36, 0.36, 0.35, 0.35, 0.35, 0.35, 0.36, 0.36,
  0.35, 0.35, 0.35, 0.35, 0.36, 0.36, 0.35, 0.35, 0.36, 0.36,
  0.36, 0.36, 0.35, 0.35, 0.35, 0.35, 0.36, 0.36, 0.35, 0.35,
  0.35, 0.35, 0.36, 0.36, 0.35, 0.35, 0.35, 0.35, 0.36, 0.36,
  0.35, 0.35, 0.36, 0.36, 0.35, 0.35, 0.36, 0.36, 0.35, 0.35,
  0.36, 0.36, 0.35, 0.35, 0.35, 0.35, 0.36, 0.36, 0.35, 0.35,
  0.35, 0.35, 0.36, 0.36, 0.35, 0.35, 0.35, 0.35, 0.36, 0.36,
  0.35, 0.35, 0.35, 0.35, 0.36, 0.36, 0.35, 0.35, 0.36, 0.36,
  0.36, 0.36, 0.35, 0.35, 0.35, 0.35, 0.36, 0.36, 0.35, 0.35,
  0.35, 0.35, 0.36, 0.36, 0.35, 0.35, 0.35, 0.35, 0.36, 0.36,
  0.35, 0.35, 0.36, 0.36, 0.35, 0.35, 0.36, 0.36, 0.35, 0.35,
  0.36, 0.36, 0.35, 0.35, 0.35, 0.35, 0.36, 0.36, 0.35, 0.35,
  0.35, 0.35, 0.36, 0.36, 0.35, 0.35, 0.35, 0.35, 0.36];

var seriesNames = [
  "HTL (A) |  ETL (A) (average of 3 pixels)",
  "HTL (A) |  ETL (B) (average of 6 pixels)",
  "HTL (B) |  ETL (A) (average of 6 pixels)",
  "HTL (B) |  ETL (B) (average of 8 pixels)"
];
var seriesColors = ["#EDB120", "#D95319", "#0072BD", "#7E2F8E"];
var xTicks = [0, 50, 100, 150, 200, 250, 300, 350, 400];
var yTicks = [0, 2, 4, 6, 8, 10, 12, 14, 16, 18, 20];

//begin drawing
var width = 2498, height = 1078;

var svg = d3.select("body")
    .append("svg")
    .attr("width", width)
    .attr("height", height);

var x = d3.scaleLinear().domain([0, 408]).range([125, 2487]);
var y = d3.scaleLinear().domain([0, 20]).range([966, 45]);

//grid lines
var grid = svg.append("g").attr("stroke", "#dfdfdf").attr("stroke-width", 1.5);
grid.selectAll(".vgrid")
    .data(xTicks.slice(1))
    .enter()
    .append("line")
    .attr("x1", function(d){ return x(d); })
    .attr("x2", function(d){ return x(d); })
    .attr("y1", y(20))
    .attr("y2", y(0));
grid.selectAll(".hgrid")
    .data(yTicks.slice(1))
    .enter()
    .append("line")
    .attr("x1", x(0))
    .attr("x2", x(408))
    .attr("y1", function(d){ return y(d); })
    .attr("y2", function(d){ return y(d); });

//axes
var xAxis = svg.append("g")
    .attr("transform", "translate(0," + y(0) + ")")
    .call(d3.axisBottom(x).tickValues(xTicks).tickSizeInner(24).tickSizeOuter(0).tickPadding(22));
var yAxis = svg.append("g")
    .attr("transform", "translate(" + x(0) + ",0)")
    .call(d3.axisLeft(y).tickValues(yTicks).tickSizeInner(25).tickSizeOuter(0).tickPadding(12));

[xAxis, yAxis].forEach(function(ax){
    ax.select(".domain").attr("stroke", "#262626").attr("stroke-width", 2);
    ax.selectAll(".tick line").attr("stroke", "#262626").attr("stroke-width", 2);
    ax.selectAll(".tick text")
        .attr("fill", "#262626")
        .style("font-size", "28px")
        .style("font-family", "'Liberation Sans', Arial, sans-serif");
});

//error bar series
var means = [yellowMean, orangeMean, blueMean, purpleMean];
var stds = [yellowStd, orangeStd, blueStd, purpleStd];
var capHalf = 7;

means.forEach(function(m, k){
    var pts = hours.map(function(h, i){
        return {h: h, m: m[i], s: stds[k][i]};
    }).filter(function(d){ return d.m !== undefined && d.s !== undefined; });

    var g = svg.append("g")
        .attr("stroke", seriesColors[k])
        .attr("stroke-width", 2)
        .attr("fill", "none");

    g.selectAll(".bar")
        .data(pts)
        .enter()
        .append("line")
        .attr("x1", function(d){ return x(d.h); })
        .attr("x2", function(d){ return x(d.h); })
        .attr("y1", function(d){ return y(d.m - d.s); })
        .attr("y2", function(d){ return y(d.m + d.s); });

    ["lo", "hi"].forEach(function(side){
        g.selectAll(".cap" + side)
            .data(pts)
            .enter()
            .append("line")
            .attr("x1", function(d){ return x(d.h) - capHalf; })
            .attr("x2", function(d){ return x(d.h) + capHalf; })
            .attr("y1", function(d){ return y(side == "lo" ? d.m - d.s : d.m + d.s); })
            .attr("y2", function(d){ return y(side == "lo" ? d.m - d.s : d.m + d.s); });
    });

    g.append("path")
        .datum(pts)
        .attr("d", d3.line()
            .x(function(d){ return x(d.h); })
            .y(function(d){ return y(d.m); }));
});

//title and axis labels
svg.append("text")
    .attr("x", (x(0) + x(408)) / 2)
    .attr("y", 34)
    .attr("text-anchor", "middle")
    .attr("textLength", 486)
    .attr("lengthAdjust", "spacingAndGlyphs")
    .style("font-size", "30px")
    .style("font-weight", "bold")
    .style("fill", "#000")
    .text("Averages and Standard Deviation");

svg.append("text")
    .attr("x", (x(0) + x(408)) / 2)
    .attr("y", 1070)
    .attr("text-anchor", "middle")
    .style("font-size", "29px")
    .text("duration (h)");

svg.append("text")
    .attr("transform", "translate(38," + (y(0) + y(20)) / 2 + ") rotate(-90)")
    .attr("text-anchor", "middle")
    .style("font-size", "28px")
    .text("PCE from MPPT (%)");

//legend
var legend = svg.append("g");
legend.append("rect")
    .attr("x", 957)
    .attr("y", 738)
    .attr("width", 689)
    .attr("height", 183)
    .attr("fill", "#fff")
    .attr("stroke", "#262626")
    .attr("stroke-width", 1.5);

var rows = legend.selectAll(".entry")
    .data(seriesNames)
    .enter()
    .append("g")
    .attr("transform", function(d, i){ return "translate(0," + (761 + i * 45.75) + ")"; });

rows.each(function(d, i){
    var r = d3.select(this);
    var c = seriesColors[i];
    r.append("line").attr("x1", 1016).attr("x2", 1098).attr("y1", 0).attr("y2", 0)
        .attr("stroke", c).attr("stroke-width", 2);
    r.append("line").attr("x1", 1057).attr("x2", 1057).attr("y1", -17).attr("y2", 17)
        .attr("stroke", c).attr("stroke-width", 2);
    [-17, 17].forEach(function(dy){
        r.append("line").attr("x1", 1049).attr("x2", 1065).attr("y1", dy).attr("y2", dy)
            .attr("stroke", c).attr("stroke-width", 2);
    });
    r.append("text")
        .attr("x", 1105)
        .attr("y", 10)
        .attr("textLength", 485)
        .attr("lengthAdjust", "spacingAndGlyphs")
        .style("font-size", "28px")
        .style("white-space", "pre")
        .style("fill", "#000")
        .text(d);
});
</script>
</body>
</html>
